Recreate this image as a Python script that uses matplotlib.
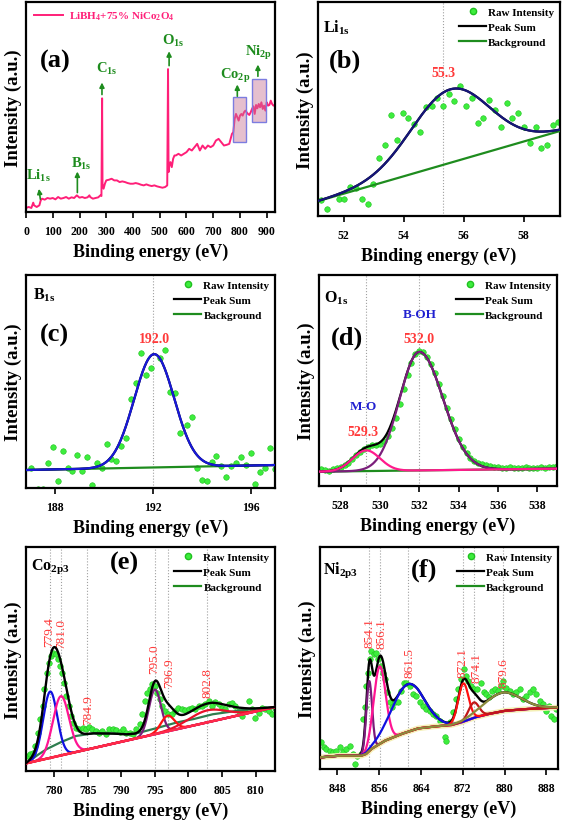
import numpy as np
import matplotlib.pyplot as plt
from matplotlib.lines import Line2D
from matplotlib.patches import Rectangle

plt.rcParams['font.family'] = 'Liberation Serif'
plt.rcParams['font.weight'] = 'bold'
plt.rcParams['axes.labelweight'] = 'bold'
plt.rcParams['mathtext.fontset'] = 'custom'
plt.rcParams['mathtext.rm'] = 'Liberation Serif:bold'
plt.rcParams['mathtext.it'] = 'Liberation Serif:bold'
plt.rcParams['mathtext.bf'] = 'Liberation Serif:bold'
plt.rcParams['axes.linewidth'] = 1.6

# ---------------- data (intensities in arbitrary units) ----------------
# (a) survey spectrum
survey_ev = [0, 10, 20, 27, 30, 40, 50, 55, 60, 70,
             80, 90, 100, 110, 120, 130, 140, 150, 160, 170,
             180, 190, 200, 210, 220, 230, 237, 240, 250, 260,
             270, 278, 282, 284.5, 286, 290, 295, 300, 310, 320,
             330, 340, 350, 360, 370, 380, 390, 400, 410, 420,
             430, 440, 450, 460, 470, 480, 490, 500, 510, 520,
             528, 531, 533, 536, 540, 545, 550, 555, 560, 570,
             580, 590, 600, 610, 620, 630, 640, 650, 660, 670,
             680, 690, 700, 710, 720, 730, 740, 750, 760, 765,
             770, 775, 780, 785, 790, 795, 800, 805, 810, 815,
             820, 825, 830, 835, 840, 845, 850, 855, 860, 865,
             870, 875, 880, 885, 890, 895, 900, 905, 910, 915,
             920, 925, 930]
survey_counts = [12, 15, 12, 28, 20, 15, 20, 35, 40, 37,
                 42, 40, 42, 38, 45, 40, 42, 45, 40, 44,
                 42, 50, 43, 45, 42, 44, 50, 45, 40, 42,
                 44, 50, 48, 342, 85, 70, 85, 95, 97, 100,
                 95, 95, 90, 92, 90, 87, 85, 85, 87, 85,
                 82, 80, 83, 80, 78, 80, 77, 75, 73, 75,
                 80, 430, 120, 140, 150, 135, 160, 170, 170, 175,
                 170, 175, 180, 190, 185, 195, 205, 185, 200, 190,
                 200, 195, 200, 215, 220, 210, 200, 202, 205, 220,
                 235, 240, 280, 295, 285, 275, 290, 295, 290, 300,
                 305, 300, 295, 292, 300, 310, 318, 295, 322, 312,
                 325, 315, 330, 310, 320, 305, 330, 320, 322, 335,
                 325, 320, 322]

# (b) Li 1s
li_ev = [51.23, 51.45, 51.64, 51.83, 52.02, 52.22, 52.42, 52.61, 52.80, 52.99,
         53.18, 53.38, 53.58, 53.77, 53.96, 54.15, 54.35, 54.54, 54.73, 54.93,
         55.12, 55.30, 55.50, 55.69, 55.89, 56.08, 56.28, 56.46, 56.66, 56.85,
         57.04, 57.24, 57.43, 57.62, 57.81, 58.01, 58.20, 58.40, 58.59, 58.77,
         58.97, 59.16]
li_counts = [47, 22, -6, 52, 52, 87, 84, 52, 37, 97,
             174, 214, 304, 229, 312, 297, 279, 254, 329, 334,
             357, 334, 370, 349, 392, 332, 357, 282, 295, 352,
             320, 270, 342, 297, 312, 269, 222, 270, 206, 214,
             276, 284]
li_bg_ev = [51.14, 59.21]
li_bg = [45, 257]
li_peak = (55.55, 222, 1.3)          # centre, height, sigma

# (c) B 1s
b_ev = [187.0, 187.3, 187.5, 187.7, 187.9, 188.1, 188.3, 188.5, 188.7, 188.9,
        189.1, 189.3, 189.5, 189.7, 189.9, 190.1, 190.3, 190.5, 190.7, 190.9,
        191.1, 191.3, 191.5, 191.7, 191.9, 192.3, 192.5, 192.7, 192.9, 193.1,
        193.4, 193.6, 193.8, 194.0, 194.2, 194.4, 194.6, 194.8, 195.0, 195.2,
        195.4, 195.6, 195.8, 196.0, 196.2, 196.4, 196.6, 196.8, 197.0]
b_counts = [59, -3, -3, 74, 122, 20, 110, 59, 52, 99,
            50, 92, 8, 75, 60, 133, 87, 80, 127, 149,
            267, 315, 404, 339, 359, 389, 414, 289, 286, 164,
            189, 213, 61, 25, 20, 79, 95, 65, 34, 65,
            74, 92, 70, 105, 13, 49, 60, 119, 57]
b_bg_ev = [186.8, 197.0]
b_bg = [54, 69]
b_peak = (192.05, 340, 0.82)

# (d) O 1s
o_ev = [527.0, 527.2, 527.4, 527.6, 527.8, 528.0, 528.2, 528.4, 528.6, 528.8,
        529.0, 529.2, 529.4, 529.6, 529.8, 530.0, 530.2, 530.4, 530.6, 530.8,
        531.0, 531.2, 531.4, 531.6, 531.8, 532.0, 532.2, 532.4, 532.6, 532.8,
        533.0, 533.2, 533.4, 533.6, 533.8, 534.0, 534.2, 534.4, 534.6, 534.8,
        535.0, 535.2, 535.4, 535.6, 535.8, 536.0, 536.2, 536.4, 536.6, 536.8,
        537.0, 537.2, 537.4, 537.6, 537.8, 538.0, 538.2, 538.4, 538.6, 538.8,
        539.0]
o_counts = [50, 47, 44, 50, 55, 58, 62, 70, 80, 92,
            103, 112, 118, 122, 124, 127, 135, 150, 175, 205,
            245, 290, 332, 370, 395, 405, 402, 388, 365, 340,
            305, 270, 235, 200, 170, 142, 118, 98, 85, 75,
            70, 65, 62, 60, 57, 56, 55, 54, 56, 53,
            55, 54, 56, 55, 53, 55, 57, 54, 56, 58,
            60]
o_bg_ev = [526.9, 539.0]
o_bg = [43, 52]
o_mo_peak = (529.3, 62, 0.7)
o_boh_peak = (532.0, 355, 1.0, 1.2)  # centre, height, sigma low side, sigma high side

# (e) Co 2p3
co_ev = [776.05, 776.39, 776.79, 777.19, 777.53, 777.88, 778.28, 778.52, 778.87, 779.17,
         779.51, 779.86, 780.26, 780.50, 780.85, 781.15, 781.49, 781.74, 782.14, 782.48,
         782.83, 783.23, 783.72, 784.22, 784.71, 785.21, 785.70, 786.20, 786.69, 787.19,
         787.68, 788.18, 788.77, 789.27, 789.76, 790.26, 790.75, 791.25, 791.74, 792.24,
         792.73, 793.13, 793.52, 793.87, 794.22, 794.61, 795.01, 795.35, 795.70, 796.10,
         796.49, 796.99, 797.48, 797.98, 798.47, 799.07, 799.56, 800.06, 800.55, 801.05,
         801.54, 802.04, 802.53, 803.03, 803.52, 804.02, 804.51, 805.01, 805.50, 806.00,
         806.49, 806.99, 807.48, 807.98, 808.47, 808.97, 809.46, 809.96, 810.45, 810.95,
         811.44, 811.94, 812.43, 812.83]
co_counts = [45, 50, 55, 75, 115, 155, 195, 245, 295, 325,
             345, 355, 350, 335, 315, 295, 265, 225, 195, 165,
             145, 130, 125, 130, 127, 133, 125, 120, 115, 120,
             110, 125, 127, 123, 117, 127, 113, 115, 110, 125,
             140, 170, 210, 235, 245, 260, 255, 235, 215, 195,
             180, 170, 170, 180, 190, 185, 183, 187, 190, 185,
             195, 195, 200, 210, 195, 207, 200, 190, 185, 200,
             203, 195, 180, 165, 180, 210, 185, 160, 175, 190,
             185, 180, 170, 190]
co_bg_ev = [775.8, 777.3, 778.8, 780.8, 783.2, 785.7, 788.2, 790.7, 792.1, 794.6,
            798.1, 800.6, 803.5, 808.0, 812.9]
co_bg = [23, 45, 65, 85, 105, 113, 113, 110, 112, 125,
         145, 155, 170, 183, 192]
co_base_ev = [775.8, 812.9]
co_base = [23, 192]
co_centres = [779.4, 781.0, 795.0, 796.9, 802.8]
co_heights = [199, 178, 134, 47, 36]
co_sigmas = [1.05, 1.2, 0.9, 1.0, 2.8]
co_labels = ['779.4', '781.0', '784.9', '795.0', '796.9', '802.8']

# (f) Ni 2p3
ni_ev = [844.94, 845.45, 845.90, 846.53, 847.17, 847.81, 848.45, 849.08, 849.72, 850.36,
         851.00, 851.44, 851.83, 852.46, 852.91, 853.23, 853.55, 853.87, 854.19, 854.51,
         855.02, 855.46, 855.78, 856.29, 856.74, 857.06, 857.57, 858.01, 858.46, 858.97,
         859.61, 860.12, 860.76, 861.20, 861.84, 862.48, 863.11, 863.75, 864.39, 865.03,
         865.67, 866.30, 866.94, 867.58, 868.22, 868.54, 868.85, 869.49, 870.13, 870.64,
         871.09, 871.60, 872.17, 872.55, 873.00, 873.64, 874.15, 874.79, 875.42, 876.06,
         876.51, 876.95, 877.59, 878.10, 878.74, 879.25, 879.76, 880.33, 880.97, 881.61,
         882.25, 882.88, 883.52, 884.16, 884.80, 885.44, 886.07, 886.71, 887.35, 887.99,
         888.50, 888.94, 889.45, 889.90]
ni_counts = [80, 65, 60, 55, 50, 55, 65, 50, 60, 70,
             45, 15, 40, 45, 150, 185, 250, 290, 330, 355,
             345, 350, 330, 310, 290, 270, 230, 200, 185, 200,
             200, 235, 260, 260, 250, 225, 220, 200, 190, 180,
             175, 165, 160, 145, 135, 95, 85, 140, 170, 210,
             240, 270, 300, 280, 265, 250, 240, 240, 260, 230,
             225, 215, 235, 240, 235, 250, 265, 245, 235, 225,
             230, 240, 210, 220, 230, 240, 225, 205, 195, 175,
             190, 160, 150, 180]
ni_bg_ev = [844.7, 848.1, 852.6, 853.5, 854.5, 857.1, 860.2, 863.4, 866.6, 869.8,
            871.7, 874.3, 876.8, 880.0, 883.8, 887.7, 890.2]
ni_bg = [35, 40, 40, 45, 60, 85, 105, 122, 128, 132,
         140, 155, 165, 175, 180, 183, 185]
ni_centres = [854.1, 856.1, 861.5, 872.1, 874.1, 879.6]
ni_heights = [210, 233, 143, 115, 46, 56]
ni_sigmas = [0.55, 1.14, 3.06, 0.98, 1.0, 3.5]
ni_labels = ['854.1', '856.1', '861.5', '872.1', '874.1', '879.6']

# ---------------- styling ----------------
RAW = '#3ded3d'
RAW_EDGE = '#20c020'
LABEL_RED = '#ff3a3a'
GREEN = '#1e8c1e'
GUIDE = '#a0a0a0'


def gauss(x, c, h, s):
    return h * np.exp(-(x - c) ** 2 / (2 * s ** 2))


def finish(ax, xlim, ylim, xticks):
    ax.set_xlim(*xlim)
    ax.set_ylim(*ylim)
    ax.set_xticks(xticks)
    ax.set_yticks([])
    ax.tick_params(axis='x', direction='out', length=4.5, width=1.2, labelsize=8.5, pad=5)
    ax.set_xlabel('Binding energy (eV)', fontsize=13, labelpad=4)
    ax.set_ylabel('Intensity (a.u.)', fontsize=13.5, labelpad=3)


def add_legend(ax, bg_color):
    handles = [Line2D([], [], ls='none', marker='o', ms=4.5, mfc=RAW, mec=RAW_EDGE),
               Line2D([], [], color='black', lw=1.6),
               Line2D([], [], color=bg_color, lw=1.6)]
    ax.legend(handles, ['Raw Intensity', 'Peak Sum', 'Background'], loc='upper right',
              frameon=False, fontsize=8, handlelength=2.4, handletextpad=0.2,
              labelspacing=0.45, borderaxespad=0.3, borderpad=0.2)


def raw(ax, x, y):
    ax.scatter(x, y, s=16, c=RAW, edgecolors=RAW_EDGE, linewidths=0.4, zorder=2)


def guide(ax, x):
    ax.axvline(x, color=GUIDE, ls=':', lw=0.8, zorder=0)


fig = plt.figure(figsize=(5.63, 8.28), dpi=100)
ax_a = fig.add_axes([0.0462, 0.7428, 0.4423, 0.2536])
ax_b = fig.add_axes([0.5648, 0.7379, 0.4298, 0.2585])
ax_c = fig.add_axes([0.0462, 0.4094, 0.4423, 0.2572])
ax_d = fig.add_axes([0.5666, 0.4118, 0.4227, 0.2548])
ax_e = fig.add_axes([0.0462, 0.0676, 0.4423, 0.2705])
ax_f = fig.add_axes([0.5684, 0.0700, 0.4227, 0.2681])

# ---- (a) survey ----
ax = ax_a
ax.plot(survey_ev, survey_counts, color='#ff1f78', lw=1.4,
        label='LiBH$_4$+75% NiCo$_2$O$_4$')
ax.add_patch(Rectangle((773, 212), 50, 133, facecolor=(0.78, 0.45, 0.58, 0.45),
                       edgecolor='#7c7ce0', lw=1, zorder=3))
ax.add_patch(Rectangle((844, 270), 53, 130, facecolor=(0.78, 0.45, 0.58, 0.45),
                       edgecolor='#7c7ce0', lw=1, zorder=3))
marks = [('Li$_{1s}$', (55, 30), (47, 78), (48, 112)),
         ('B$_{1s}$', (192, 50), (192, 130), (208, 148)),
         ('C$_{1s}$', (284, 345), (284, 398), (302, 432)),
         ('O$_{1s}$', (535, 432), (535, 492), (551, 517)),
         ('Co$_{2p}$', (790, 340), (790, 392), (782, 412)),
         ('Ni$_{2p}$', (867, 400), (867, 452), (869, 482))]
for name, tail, head, pos in marks:
    ax.annotate('', xy=head, xytext=tail,
                arrowprops=dict(arrowstyle='-|>', color=GREEN, lw=1.2, mutation_scale=7))
    ax.text(pos[0], pos[1], name, color=GREEN, fontsize=10.5, ha='center', va='center')
ax.text(108, 457, '(a)', fontsize=19, ha='center', va='center')
ax.legend(loc='upper left', frameon=False, fontsize=8, handlelength=2.6,
          handletextpad=0.6, labelcolor='#ff1f78', borderaxespad=0.3)
finish(ax, (0, 931), (0, 632), range(0, 1000, 100))

# ---- (b) Li 1s ----
ax = ax_b
xb = np.linspace(51.14, 59.21, 400)
bg = np.interp(xb, li_bg_ev, li_bg)
raw(ax, li_ev, li_counts)
guide(ax, 55.3)
ax.plot(li_bg_ev, li_bg, color=GREEN, lw=1.6, zorder=3)
ax.plot(xb, bg + gauss(xb, *li_peak), color='black', lw=1.6, zorder=3)
ax.plot(xb, bg + gauss(xb, *li_peak), color='#16167a', lw=1.6, zorder=4)
ax.text(55.34, 434, '55.3', color=LABEL_RED, fontsize=10, ha='center', va='center')
ax.text(51.3, 572, 'Li$_{1s}$', fontsize=11.5, ha='left', va='center')
ax.text(52.05, 472, '(b)', fontsize=19, ha='center', va='center')
add_legend(ax, GREEN)
finish(ax, (51.14, 59.21), (0, 647), [52, 54, 56, 58])

# ---- (c) B 1s ----
ax = ax_c
xc = np.linspace(186.8, 197.0, 400)
bg = np.interp(xc, b_bg_ev, b_bg)
raw(ax, b_ev, b_counts)
guide(ax, 192.0)
ax.plot(b_bg_ev, b_bg, color=GREEN, lw=1.6, zorder=3)
ax.plot(xc, bg + gauss(xc, *b_peak), color='black', lw=1.6, zorder=3)
ax.plot(xc, bg + gauss(xc, *b_peak), color='#1818d8', lw=1.6, zorder=4)
ax.text(192.05, 449, '192.0', color=LABEL_RED, fontsize=10, ha='center', va='center')
ax.text(187.1, 582, 'B$_{1s}$', fontsize=11.5, ha='left', va='center')
ax.text(187.96, 462, '(c)', fontsize=19, ha='center', va='center')
add_legend(ax, GREEN)
finish(ax, (186.8, 197.0), (0, 639), [188, 192, 196])

# ---- (d) O 1s ----
ax = ax_d
xd = np.linspace(526.9, 539.0, 500)
bg = np.interp(xd, o_bg_ev, o_bg)
c, h, s_lo, s_hi = o_boh_peak
boh = np.where(xd < c, gauss(xd, c, h, s_lo), gauss(xd, c, h, s_hi))
mo = gauss(xd, *o_mo_peak)
raw(ax, o_ev, o_counts)
guide(ax, 529.3)
guide(ax, 532.0)
ax.plot(o_bg_ev, o_bg, color=GREEN, lw=1.6, zorder=3)
ax.plot(xd, bg + boh + mo, color='black', lw=1.6, zorder=3)
ax.plot(xd, bg + boh, color='#7a1f7a', lw=1.6, zorder=4)
ax.plot(xd, bg + mo, color='#ff1a8c', lw=1.6, zorder=4)
ax.text(532.0, 443, '532.0', color=LABEL_RED, fontsize=10, ha='center', va='center')
ax.text(532.0, 515, 'B-OH', color='#2020d0', fontsize=9.5, ha='center', va='center')
ax.text(529.14, 240, 'M-O', color='#2020d0', fontsize=9.5, ha='center', va='center')
ax.text(529.14, 163, '529.3', color=LABEL_RED, fontsize=10, ha='center', va='center')
ax.text(527.15, 565, 'O$_{1s}$', fontsize=11.5, ha='left', va='center')
ax.text(528.3, 445, '(d)', fontsize=19, ha='center', va='center')
add_legend(ax, GREEN)
finish(ax, (526.9, 539.0), (0, 632), [528, 530, 532, 534, 536, 538])

# ---- (e) Co 2p3 ----
ax = ax_e
xe = np.linspace(775.8, 812.9, 700)
bg = np.interp(xe, co_bg_ev, co_bg)
base = np.interp(xe, co_base_ev, co_base)
comps = [gauss(xe, c, h, s) for c, h, s in zip(co_centres, co_heights, co_sigmas)]
raw(ax, co_ev, co_counts)
for lab in co_labels:
    guide(ax, float(lab))
ax.plot(xe, bg, color='#2e7d4f', lw=1.6, zorder=3)
for comp, col in zip(comps, ['#1010e0', '#ff1493', '#7a1f7a', '#ff1010', '#e8102a']):
    ax.plot(xe, base + comp, color=col, lw=1.6, zorder=3)
ax.plot(co_base_ev, co_base, color='#ff2a4a', lw=1.8, zorder=4)
ax.plot(xe, bg + sum(comps), color='black', lw=1.7, zorder=5)
label_y = [420, 415, 185, 340, 297, 267]
label_x = [779.27, 781.0, 785.0, 794.86, 797.1, 802.8]
for lab, lx, ly in zip(co_labels, label_x, label_y):
    ax.text(lx, ly, lab, color=LABEL_RED, fontsize=9.5, fontweight='normal',
            rotation=90, ha='center', va='center')
ax.text(776.6, 615, 'Co$_{2p3}$', fontsize=11.5, ha='left', va='center')
ax.text(790.4, 625, '(e)', fontsize=19, ha='center', va='center')
add_legend(ax, GREEN)
finish(ax, (775.8, 812.9), (0, 672), range(780, 815, 5))

# ---- (f) Ni 2p3 ----
ax = ax_f
xf = np.linspace(844.7, 890.2, 800)
bg = np.interp(xf, ni_bg_ev, ni_bg)
comps = [gauss(xf, c, h, s) for c, h, s in zip(ni_centres, ni_heights, ni_sigmas)]
raw(ax, ni_ev, ni_counts)
for lab in ni_labels:
    guide(ax, float(lab))
ax.plot(ni_bg_ev, ni_bg, color='#f4efb4', lw=4, zorder=2.5)
ax.plot(xf, bg + sum(comps), color='black', lw=1.7, zorder=2.8)
for comp, col in zip(comps, ['#7a1a7a', '#ff1493', '#1010e0', '#ff1010', '#c01818', '#8b8b3c']):
    ax.plot(xf, bg + comp, color=col, lw=1.6, zorder=3)
label_y = [412, 408, 320, 322, 307, 290]
label_x = [854.2, 856.5, 861.8, 872.0, 874.6, 879.7]
for lab, lx, ly in zip(ni_labels, label_x, label_y):
    ax.text(lx, ly, lab, color=LABEL_RED, fontsize=9.5, fontweight='normal',
            rotation=90, ha='center', va='center')
ax.text(845.3, 600, 'Ni$_{2p3}$', fontsize=11.5, ha='left', va='center')
ax.text(864.5, 600, '(f)', fontsize=19, ha='center', va='center')
add_legend(ax, GREEN)
finish(ax, (844.7, 890.2), (0, 667), range(848, 892, 8))

fig.savefig('out.png', dpi=100)
